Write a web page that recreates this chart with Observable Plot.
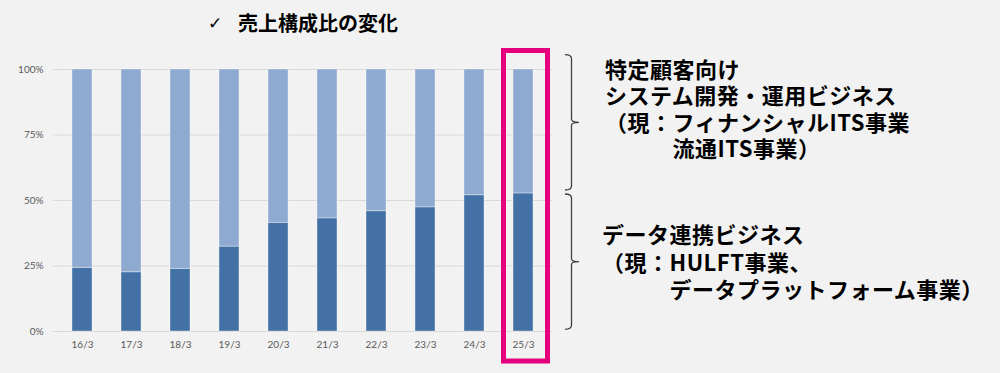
<!DOCTYPE html>
<html><head><meta charset="utf-8">
<script src="https://cdn.jsdelivr.net/npm/d3@7"></script>
<script src="https://cdn.jsdelivr.net/npm/@observablehq/plot@0.6"></script>
<style>
html,body{margin:0;padding:0;background:#f2f2f2;}
#wrap{position:relative;width:1000px;height:373px;overflow:hidden;background:#f2f2f2;}
#wrap svg{position:absolute;left:0;top:0;}
.jp{position:absolute;font-family:"Noto Sans CJK JP",sans-serif;font-weight:700;color:#000;white-space:pre;}
.note{font-size:22px;letter-spacing:0.5px;}
.title{font-size:20px;line-height:24px;top:11px;}
</style></head>
<body><div id="wrap"></div>
<script>
// ---- data ----
const periods = ["16/3","17/3","18/3","19/3","20/3","21/3","22/3","23/3","24/3","25/3"];
// データ連携ビジネス (HULFT事業、データプラットフォーム事業)
const dataIntegrationShare = [0.243, 0.226, 0.239, 0.324, 0.415, 0.432, 0.459, 0.474, 0.520, 0.527];
// 特定顧客向けシステム開発・運用ビジネス (フィナンシャルITS事業、流通ITS事業)
const customSystemShare    = [0.757, 0.774, 0.761, 0.676, 0.585, 0.568, 0.541, 0.526, 0.480, 0.473];
const segmentNames = ["データ連携ビジネス", "特定顧客向けシステム開発・運用ビジネス"];
const yTicks = [0, 0.25, 0.5, 0.75, 1];
const highlightPeriod = "25/3";
const titleText = "売上構成比の変化";
const upperNote = ["特定顧客向け", "システム開発・運用ビジネス", "（現：フィナンシャルITS事業", "　　　流通ITS事業）"];
const lowerNote = ["データ連携ビジネス", "（現：HULFT事業、", "　　　データプラットフォーム事業）"];

const segmentColors = ["#4371a6", "#8faad1"];

const rows = periods.flatMap((p, i) => [
  {period: p, segment: segmentNames[0], share: dataIntegrationShare[i]},
  {period: p, segment: segmentNames[1], share: customSystemShare[i]}
]);

const chart = Plot.plot({
  width: 1000,
  height: 373,
  marginLeft: 53,
  marginRight: 448,
  marginTop: 69,
  marginBottom: 42,
  style: {background: "transparent", fontFamily: "Lato, 'Liberation Sans', sans-serif", fontSize: "10px", color: "#595959"},
  x: {domain: periods, paddingInner: 0.6, paddingOuter: 0.3, label: null, tickSize: 0, tickPadding: 9},
  y: {domain: [0, 1], ticks: yTicks, tickFormat: d3.format(".0%"), label: null, tickSize: 0, tickPadding: 10},
  color: {domain: segmentNames, range: segmentColors},
  marks: [
    Plot.ruleY(yTicks, {stroke: "#d9d9d9", strokeWidth: 1}),
    Plot.barY(rows, Plot.stackY({x: "period", y: "share", fill: "segment", order: segmentNames, stroke: "#ffffff", strokeOpacity: 0.45, strokeWidth: 0.8}))
  ]
});

const wrap = document.getElementById("wrap");
wrap.appendChild(chart);

// ---- annotations drawn from the scales ----
const xs = chart.scale("x"), ys = chart.scale("y");
const svg = d3.select(chart);
const hx = xs.apply(highlightPeriod), bw = xs.bandwidth;
const y0 = ys.apply(0), y1 = ys.apply(1), yMid = ys.apply(0.5);
svg.append("rect")
  .attr("x", hx - 9.5).attr("y", y1 - 18.5)
  .attr("width", bw + 24).attr("height", (y0 - y1) + 48.5)
  .attr("fill", "none").attr("stroke", "#e6007e").attr("stroke-width", 5);

const xr = 1000 - 448; // right edge of plot frame
function brace(top, bottom) {
  const xh = xr + 13, xv = xr + 19.5, xt = xr + 27, m = (top + bottom) / 2;
  return `M${xh},${top} Q${xv},${top} ${xv},${top + 4} L${xv},${m - 3} Q${xv},${m} ${xt},${m} Q${xv},${m} ${xv},${m + 3} L${xv},${bottom - 4} Q${xv},${bottom} ${xh},${bottom}`;
}
svg.append("path").attr("d", brace(y1 - 14.3, yMid - 10))
  .attr("fill", "none").attr("stroke", "#404040").attr("stroke-width", 1.3);
svg.append("path").attr("d", brace(yMid - 6, y0 - 1.7))
  .attr("fill", "none").attr("stroke", "#404040").attr("stroke-width", 1.3);

// ---- texts ----
function addText(txt, cls, left, top, extra) {
  const d = document.createElement("div");
  d.className = "jp " + cls;
  d.textContent = txt;
  d.style.left = left + "px";
  d.style.top = top + "px";
  if (extra) Object.assign(d.style, extra);
  wrap.appendChild(d);
}
addText("✓", "title", 208, 11, {fontFamily: "'DejaVu Sans', sans-serif", fontSize: "17px", fontWeight: "400"});
addText(titleText, "title", 238, 11);

addText(upperNote.join("\n"), "note", 605, 55, {lineHeight: "26.3px"});
addText(lowerNote.join("\n"), "note", 602, 220, {lineHeight: "27.5px"});
</script>
</body></html>
